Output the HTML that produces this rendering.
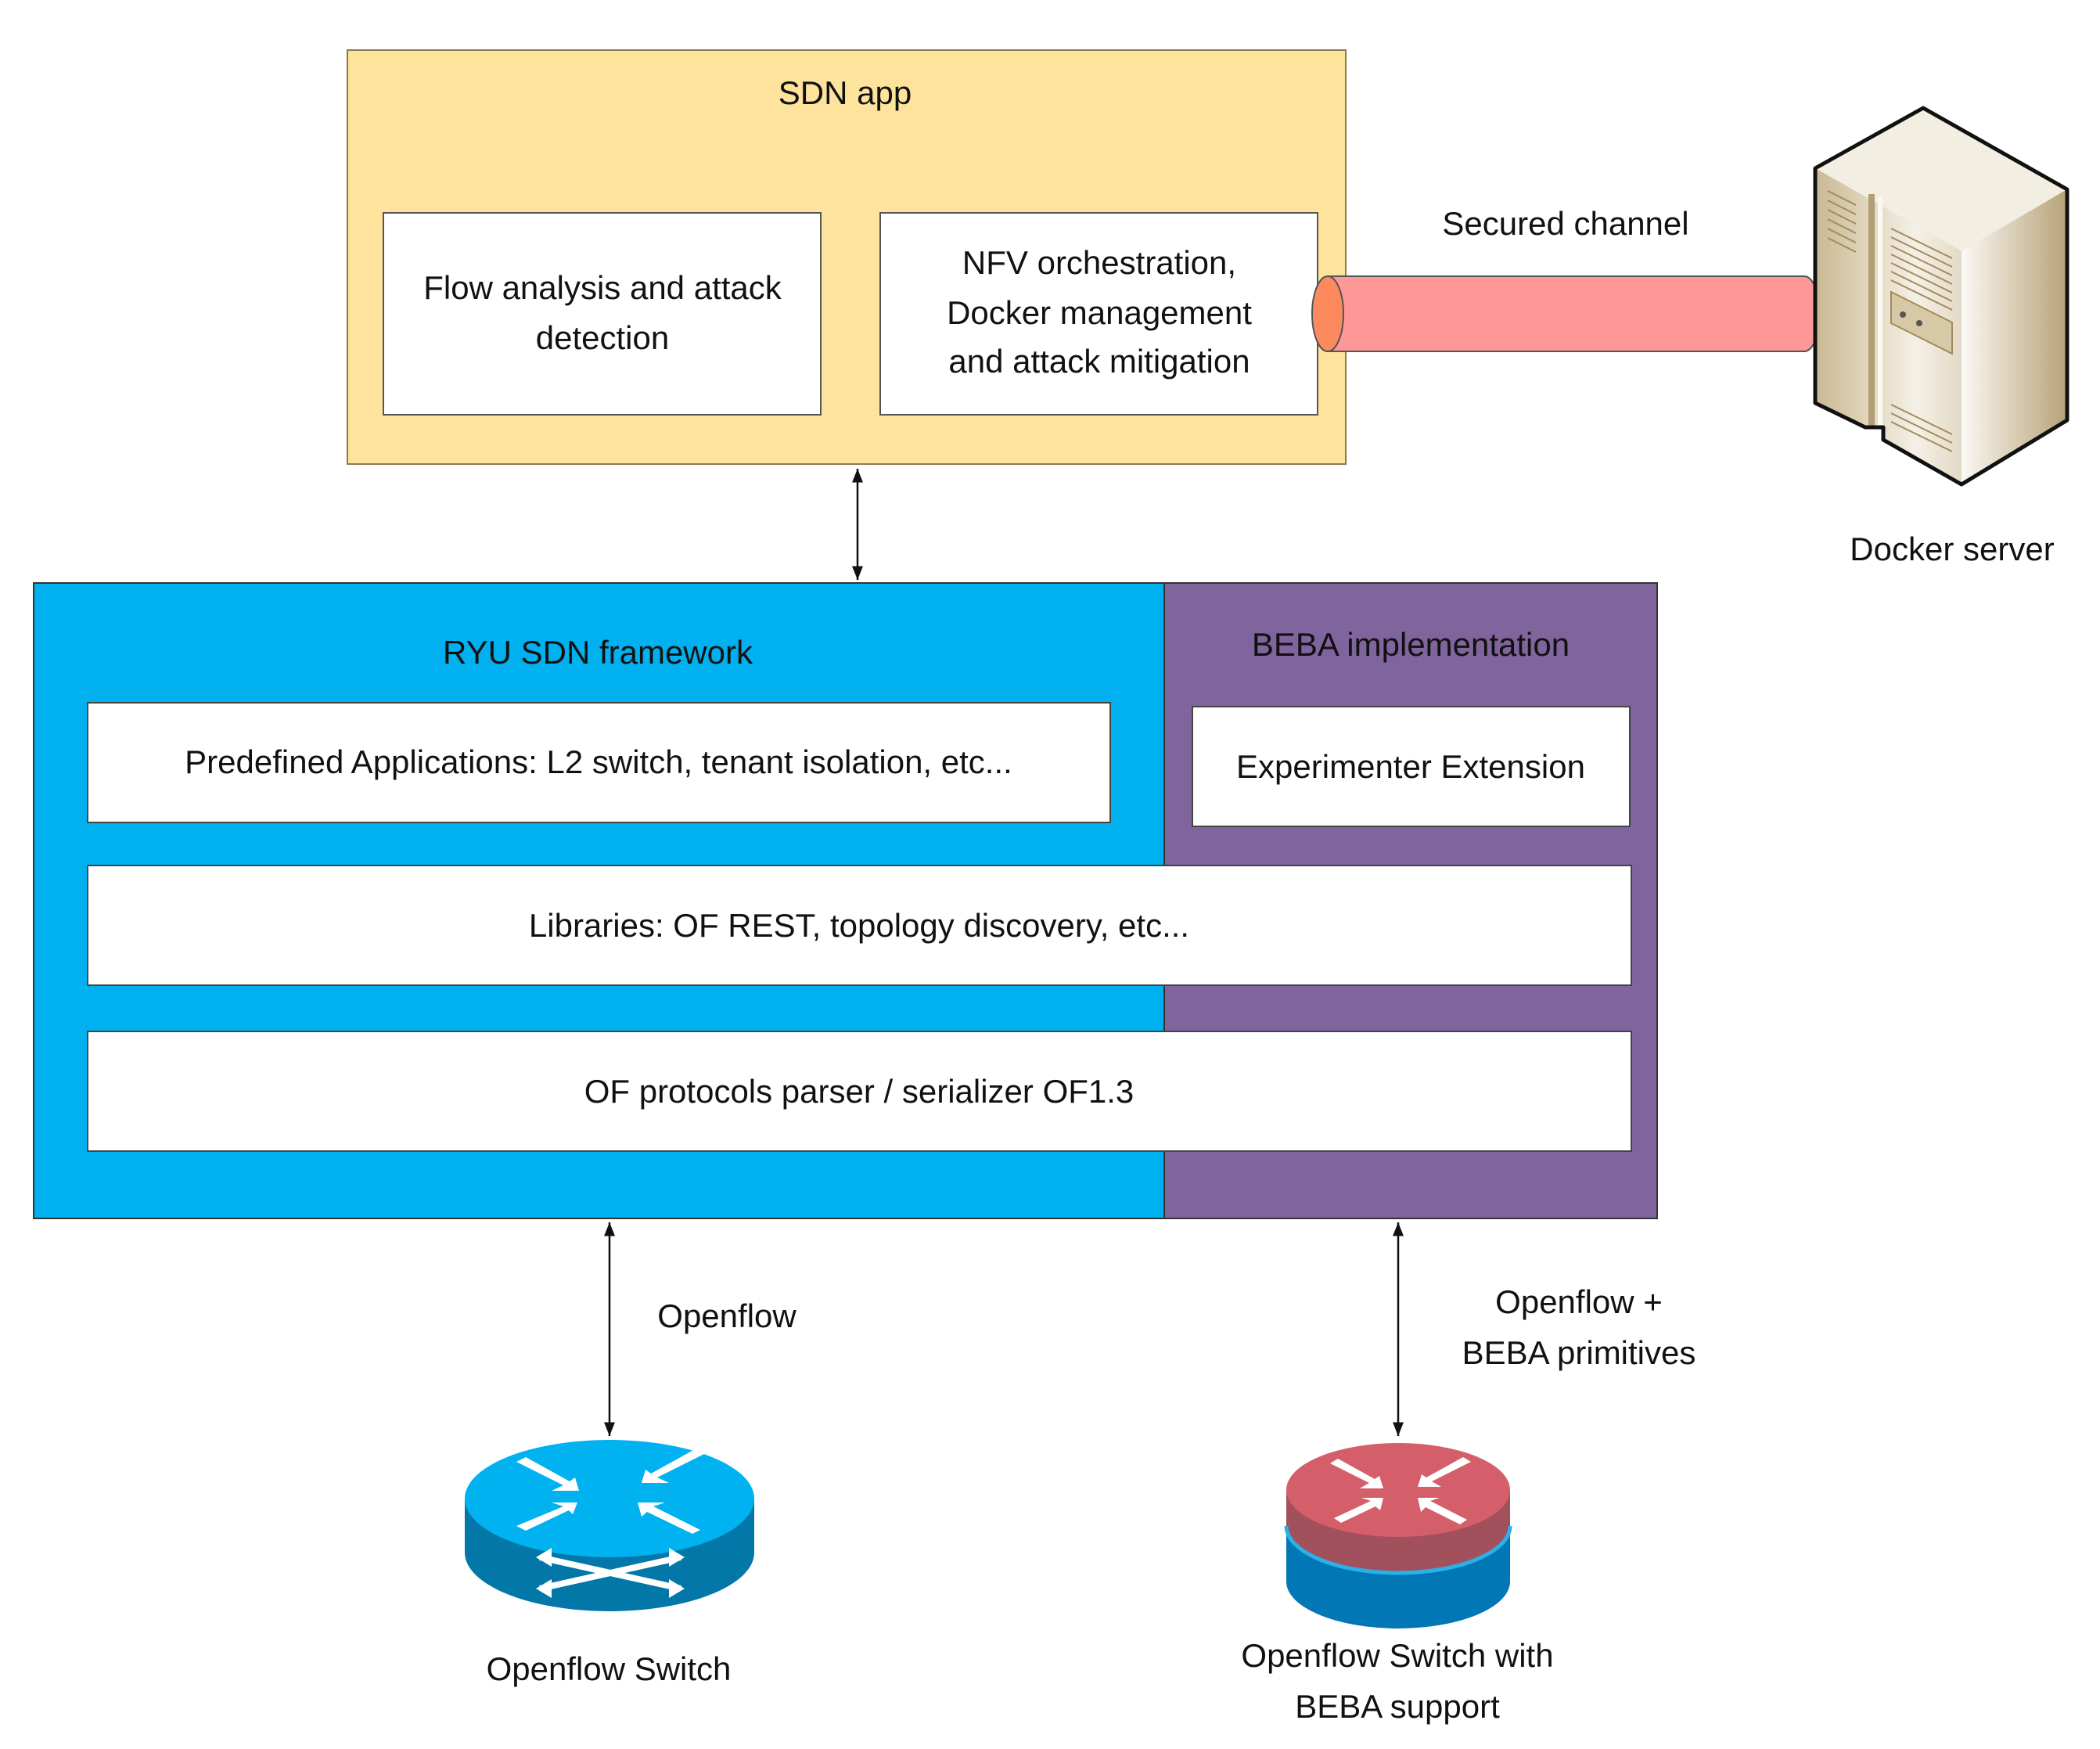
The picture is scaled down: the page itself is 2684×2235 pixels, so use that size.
<!DOCTYPE html>
<html><head><meta charset="utf-8"><style>
html,body{margin:0;padding:0;background:#fff}
svg{display:block}
text{font-family:"Liberation Sans",sans-serif;font-size:42px;fill:#111;text-anchor:middle}
</style></head><body>
<svg width="2684" height="2235" viewBox="0 0 2684 2235" xmlns="http://www.w3.org/2000/svg">
<defs>
<marker id="ah" viewBox="0 0 10 10" refX="10" refY="5" markerWidth="7" markerHeight="9" orient="auto-start-reverse" markerUnits="strokeWidth"><path d="M0,1 L10,5 L0,9 z" fill="#111"/></marker>
<linearGradient id="sv1" x1="0" x2="1"><stop offset="0" stop-color="#c9b892"/><stop offset="0.4" stop-color="#f5f0e6"/><stop offset="1" stop-color="#b9a57c"/></linearGradient>
<linearGradient id="sv2" x1="0" x2="1"><stop offset="0" stop-color="#fbf9f4"/><stop offset="1" stop-color="#b7a277"/></linearGradient>
</defs>
<!-- SDN app -->
<rect x="444" y="64" width="1276" height="529" fill="#fde39b" stroke="#8a7a50" stroke-width="2"/>
<text x="1080" y="133">SDN app</text>
<rect x="490" y="272" width="559" height="258" fill="#fff" stroke="#555" stroke-width="2"/>
<text x="770" y="382">Flow analysis and attack</text>
<text x="770" y="446">detection</text>
<rect x="1125" y="272" width="559" height="258" fill="#fff" stroke="#555" stroke-width="2"/>
<text x="1405" y="350">NFV orchestration,</text>
<text x="1405" y="414">Docker management</text>
<text x="1405" y="476">and attack mitigation</text>
<!-- secured channel -->
<text x="2001" y="300">Secured channel</text>
<path d="M1697,353 L2306,353 A20,48 0 0 1 2306,449 L1697,449 Z" fill="#fe9797" stroke="#555" stroke-width="2"/>
<ellipse cx="1697" cy="401" rx="20" ry="48" fill="#fd8a5e" stroke="#555" stroke-width="2"/>
<!-- server -->
<polygon points="2320,215 2458,138 2642,242 2642,537 2507,619 2407,562 2407,546 2384,546 2320,515" fill="url(#sv1)"/>
<polygon points="2320,215 2458,138 2642,242 2507,321" fill="#f3eee2"/>
<polygon points="2507,321 2642,242 2642,537 2507,619" fill="url(#sv2)"/>
<line x1="2392" y1="248" x2="2392" y2="546" stroke="#b39e74" stroke-width="8"/>
<line x1="2403" y1="252" x2="2403" y2="546" stroke="#fbf8f0" stroke-width="6"/>
<polygon points="2320,215 2458,138 2642,242 2642,537 2507,619 2407,562 2407,546 2384,546 2320,515" fill="none" stroke="#111" stroke-width="5" stroke-linejoin="round"/>
<g stroke="#a48a5a" stroke-width="2">
<line x1="2336" y1="244" x2="2372" y2="262"/><line x1="2336" y1="256" x2="2372" y2="274"/><line x1="2336" y1="268" x2="2372" y2="286"/><line x1="2336" y1="280" x2="2372" y2="298"/><line x1="2336" y1="292" x2="2372" y2="310"/><line x1="2336" y1="304" x2="2372" y2="322"/>
<line x1="2417" y1="292" x2="2495" y2="330"/><line x1="2417" y1="303" x2="2495" y2="341"/><line x1="2417" y1="314" x2="2495" y2="352"/><line x1="2417" y1="325" x2="2495" y2="363"/><line x1="2417" y1="336" x2="2495" y2="374"/><line x1="2417" y1="347" x2="2495" y2="385"/><line x1="2417" y1="358" x2="2495" y2="396"/>
<line x1="2417" y1="517" x2="2495" y2="555"/><line x1="2417" y1="528" x2="2495" y2="566"/><line x1="2417" y1="539" x2="2495" y2="577"/>
</g>
<polygon points="2417,373 2495,412 2495,452 2417,413" fill="#d8c9a6" stroke="#a48a5a" stroke-width="2"/>
<circle cx="2432" cy="402" r="4" fill="#555"/><circle cx="2453" cy="413" r="4" fill="#555"/>
<text x="2495" y="716">Docker server</text>
<!-- top arrow -->
<line x1="1096" y1="599" x2="1096" y2="741" stroke="#111" stroke-width="2.5" marker-start="url(#ah)" marker-end="url(#ah)"/>
<!-- main -->
<rect x="43" y="745" width="1445" height="812" fill="#00b0ef"/>
<rect x="1488" y="745" width="630" height="812" fill="#7f649d"/>
<rect x="43" y="745" width="2075" height="812" fill="none" stroke="#333" stroke-width="2"/>
<line x1="1488" y1="745" x2="1488" y2="1557" stroke="#333" stroke-width="2"/>
<text x="764" y="848">RYU SDN framework</text>
<text x="1803" y="838">BEBA implementation</text>
<rect x="112" y="898" width="1307" height="153" fill="#fff" stroke="#444" stroke-width="2"/>
<text x="765" y="988">Predefined Applications: L2 switch, tenant isolation, etc...</text>
<rect x="1524" y="903" width="559" height="153" fill="#fff" stroke="#444" stroke-width="2"/>
<text x="1803" y="994">Experimenter Extension</text>
<rect x="112" y="1106" width="1973" height="153" fill="#fff" stroke="#444" stroke-width="2"/>
<text x="1098" y="1197">Libraries: OF REST, topology discovery, etc...</text>
<rect x="112" y="1318" width="1973" height="153" fill="#fff" stroke="#444" stroke-width="2"/>
<text x="1098" y="1409">OF protocols parser / serializer  OF1.3</text>
<!-- bottom arrows -->
<line x1="779" y1="1562" x2="779" y2="1835" stroke="#111" stroke-width="2.5" marker-start="url(#ah)" marker-end="url(#ah)"/>
<line x1="1787" y1="1562" x2="1787" y2="1835" stroke="#111" stroke-width="2.5" marker-start="url(#ah)" marker-end="url(#ah)"/>
<text x="929" y="1696">Openflow</text>
<text x="2018" y="1678">Openflow +</text>
<text x="2018" y="1743">BEBA primitives</text>
<!-- left switch -->
<path d="M594,1915 L594,1984 A185,75 0 0 0 964,1984 L964,1915 Z" fill="#0277a8"/>
<ellipse cx="779" cy="1915" rx="185" ry="75" fill="#00b2ef"/>
<g fill="#fff">
<polygon points="660,1868 720,1898 705,1905 740,1905 735,1888 728,1893 672,1862"/>
<polygon points="900,1858 840,1888 855,1895 820,1895 825,1878 832,1883 888,1852"/>
<polygon points="660,1950 720,1925 705,1920 738,1920 732,1935 727,1930 672,1956"/>
<polygon points="895,1955 835,1925 850,1920 815,1920 820,1938 827,1932 885,1960"/>
<path d="M690,1990 L870,2030 M690,2030 L870,1990" stroke="#fff" stroke-width="8"/>
<polygon points="685,1990 705,1978 705,2002"/><polygon points="875,1990 855,1978 855,2002"/>
<polygon points="685,2030 705,2018 705,2042"/><polygon points="875,2030 855,2018 855,2042"/>
</g>
<text x="778" y="2147">Openflow Switch</text>
<!-- right switch -->
<path d="M1644,1904 L1644,2021 A143,60 0 0 0 1930,2021 L1930,1904 Z" fill="#0277b5"/>
<path d="M1644,1904 L1644,1950 A143,60 0 0 0 1930,1950 L1930,1904 Z" fill="#a2505b"/>
<path d="M1644,1950 A143,60 0 0 0 1930,1950" fill="none" stroke="#2cb0e8" stroke-width="5"/>
<ellipse cx="1787" cy="1904" rx="143" ry="60" fill="#d55e6b"/>
<g fill="#fff">
<polygon points="1700,1870 1750,1895 1738,1902 1768,1902 1763,1886 1757,1890 1710,1864"/>
<polygon points="1880,1868 1830,1893 1842,1900 1812,1900 1817,1884 1823,1888 1870,1862"/>
<polygon points="1705,1940 1752,1918 1740,1914 1768,1914 1764,1930 1758,1925 1714,1946"/>
<polygon points="1875,1942 1828,1918 1840,1914 1812,1914 1816,1932 1822,1926 1866,1948"/>
</g>
<text x="1786" y="2130">Openflow Switch with</text>
<text x="1786" y="2195">BEBA support</text>
</svg>
</body></html>
